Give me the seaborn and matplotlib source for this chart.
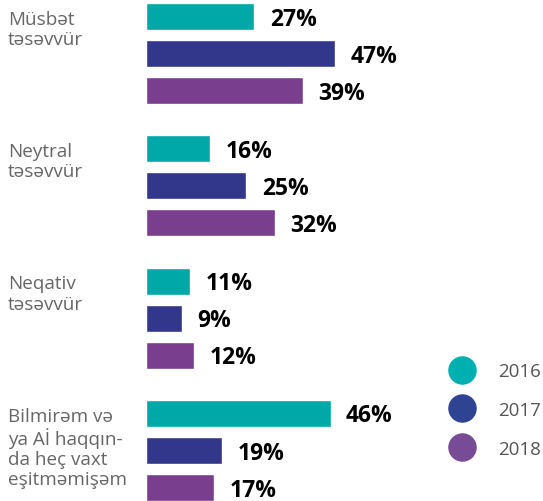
import pandas as pd
import matplotlib.pyplot as plt
import seaborn as sns
from matplotlib.lines import Line2D
from matplotlib.transforms import blended_transform_factory

sns.set_style("white")
plt.rcParams['font.family'] = ['Open Sans', 'DejaVu Sans']

# data
categories = ['Müsbət\ntəsəvvür', 'Neytral\ntəsəvvür', 'Neqativ\ntəsəvvür',
              'Bilmirəm və\nya Aİ haqqın-\nda heç vaxt\neşitməmişəm']
years = ['2016', '2017', '2018']
v2016 = [27, 16, 11, 46]
v2017 = [47, 25, 9, 19]
v2018 = [39, 32, 12, 17]

bar_colors = ['#00A9A8', '#32378B', '#7A3E8E']
dot_colors = ['#00B0B0', '#2E4493', '#774B96']

df = pd.DataFrame({
    'kateqoriya': categories * 3,
    'il': [y for y in years for _ in categories],
    'faiz': v2016 + v2017 + v2018,
})

fig = plt.figure(figsize=(5.43, 5.02), dpi=100)
ax = fig.add_axes([146 / 543, 0, 1 - 146 / 543, 1])

sns.barplot(data=df, y='kateqoriya', x='faiz', hue='il', orient='h',
            palette=bar_colors, saturation=1, width=0.84, gap=0.27,
            ax=ax, legend=False)

for cont in ax.containers:
    vals = [int(b.get_width()) for b in cont]
    anns = ax.bar_label(cont, labels=[f'{v}%' for v in vals], padding=11,
                        fontsize=16.5, fontweight='bold', color='black')
    for a in anns:
        a.xyann = (11, -1.5)

ax.set_xlim(0, 98.8)
ax.set_ylim(3.382, -0.412)
ax.set_xlabel('')
ax.set_ylabel('')
ax.set_xticks([])
ax.set_yticks([])
sns.despine(ax=ax, left=True, bottom=True)

# category labels on the left
trans = blended_transform_factory(fig.transFigure, ax.transData)
for i, cat in enumerate(categories):
    ax.text(8 / 543, i - 0.33, cat, transform=trans, ha='left', va='top',
            fontsize=13.6, color='#666666', linespacing=1.15)

# legend with round markers
handles = [Line2D([], [], marker='o', linestyle='', markersize=19.5,
                  markerfacecolor=c, markeredgecolor=c) for c in dot_colors]
fig.legend(handles, years, loc='center', bbox_to_anchor=(492 / 543, 1 - 411 / 502),
           frameon=False, fontsize=13.5, labelcolor='#555555',
           handletextpad=0.9, labelspacing=1.1, borderpad=0)

fig.savefig('out.png', dpi=100)
